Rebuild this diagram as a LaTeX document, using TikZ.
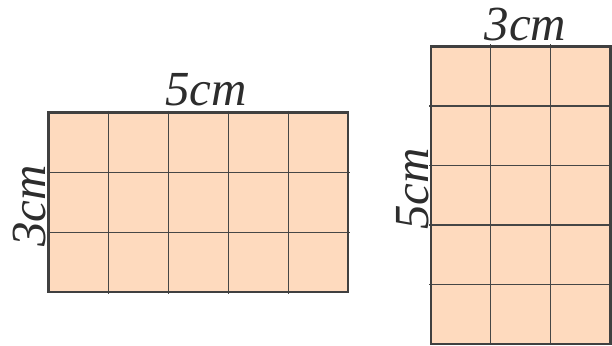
\documentclass[tikz,border=0pt]{standalone}
\usepackage{fontspec}
\setmainfont{Liberation Serif}[ItalicFont={Liberation Serif Italic}]
\begin{document}
\begin{tikzpicture}[x=1pt,y=-1pt,
  cellfill/.style={fill={rgb,255:red,254;green,218;blue,190}},
  gridline/.style={draw={rgb,255:red,70;green,70;blue,70},line width=1.2pt},
  outline/.style={draw={rgb,255:red,64;green,64;blue,64},line width=2.2pt},
  dimlabel/.style={font=\fontsize{49}{50}\selectfont\itshape,text={rgb,255:red,45;green,45;blue,45},inner sep=0pt,anchor=base}]
\useasboundingbox (0,0) rectangle (612,345);
% left grid 5 x 3
\fill[cellfill] (48.5,112.5) rectangle (348,292);
\foreach \i in {1,...,4} \draw[gridline] ({48.5+\i*59.9},110.5) -- ({48.5+\i*59.9},293.5);
\foreach \j in {1,2} \draw[gridline] (46.5,{112.5+\j*59.83}) -- (350,{112.5+\j*59.83});
\draw[outline] (48.5,112.5) rectangle (348,292);
% right grid 3 x 5
\fill[cellfill] (431,46.5) rectangle (610.5,344);
\foreach \i in {1,2} \draw[gridline] ({431+\i*59.83},44.5) -- ({431+\i*59.83},345);
\foreach \j in {1,...,4} \draw[gridline] (429,{46.5+\j*59.5}) -- (612,{46.5+\j*59.5});
\draw[outline] (431,46.5) rectangle (610.5,344);
% labels
\node[dimlabel] (ltop) at (206,105) {5cm};
\node[dimlabel,rotate=90] (lside) at (45,206) {3cm};
\node[dimlabel] (rtop) at (525.5,41) {3cm};
\node[dimlabel,rotate=90] (rside) at (428,189) {5cm};
\end{tikzpicture}
\end{document}
